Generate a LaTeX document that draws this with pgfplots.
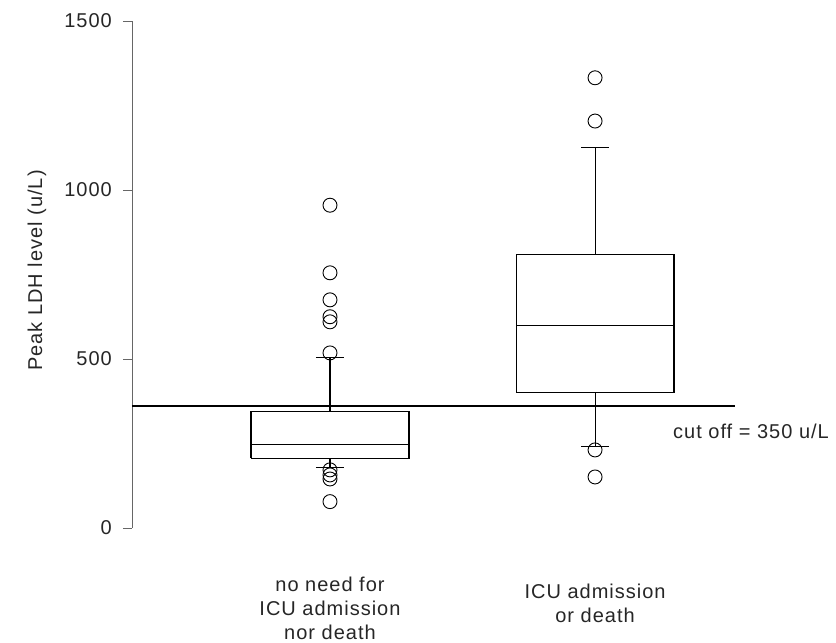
\documentclass[border=0pt]{standalone}
\usepackage{fontspec}
\setmainfont{Liberation Sans}[LetterSpace=5]
\usepackage{pgfplots}
\pgfplotsset{compat=1.18}
\begin{document}
\begin{tikzpicture}
\path[use as bounding box] (-132bp,-115bp) rectangle (704bp,528bp);
\begin{axis}[
  at={(0,0)}, anchor=south west,
  scale only axis, width=603bp, height=507bp,
  xmin=0.253, xmax=2.528, ymin=0, ymax=1500,
  clip=false,
  axis y line*=left, axis x line*=bottom,
  x axis line style={draw=none},
  y axis line style={black!60, line width=0.9bp},
  xtick={1,2},
  xticklabels={{no need for\\ICU admission\\nor death},{\rule{0pt}{21.5bp}ICU admission\\or death}},
  xtick style={draw=none},
  xticklabel style={align=center, anchor=north, inner sep=0pt, yshift=-40bp},
  ytick={0,500,1000,1500},
  ytick pos=left, tick align=outside,
  major tick length=9bp,
  ytick style={black!60, line width=0.9bp},
  yticklabel style={inner sep=0pt, xshift=-11bp},
  /pgf/number format/1000 sep={},
  /pgf/number format/assume math mode=true,
  tick label style={font=\fontsize{20bp}{24bp}\selectfont, text=black!85},
  ylabel={Peak LDH level (u/L)},
  ylabel style={at={(axis description cs:0,0.5)}, anchor=center, xshift=4bp, yshift=95bp, inner sep=0pt, font=\fontsize{20bp}{24bp}\selectfont, text=black!85},
  boxline/.style={black, line width=1.1bp, mark=none},
  outl/.style={only marks, mark=o, mark size=7bp, mark options={draw=black, line width=0.9bp}},
]
% cut-off line
\addplot[black, line width=1.3bp] coordinates {(0.253,361) (2.528,361)};
% group 1: median 248, Q1 206, Q3 344, whiskers 178 / 505
\addplot[boxline] coordinates {(0.702,206) (1.298,206) (1.298,344) (0.702,344) (0.702,206)};
\addplot[boxline] coordinates {(0.702,248) (1.298,248)};
\addplot[boxline] coordinates {(1,344) (1,505)};
\addplot[boxline] coordinates {(1,206) (1,178)};
\addplot[boxline] coordinates {(0.947,505) (1.053,505)};
\addplot[boxline] coordinates {(0.947,178) (1.053,178)};
\addplot[outl] coordinates {(1,955) (1,755) (1,675) (1,625) (1,610) (1,518) (1,172) (1,157) (1,145) (1,78)};
% group 2: median 598, Q1 402, Q3 808, whiskers 240 / 1126
\addplot[boxline] coordinates {(1.702,402) (2.298,402) (2.298,808) (1.702,808) (1.702,402)};
\addplot[boxline] coordinates {(1.702,598) (2.298,598)};
\addplot[boxline] coordinates {(2,808) (2,1126)};
\addplot[boxline] coordinates {(2,402) (2,240)};
\addplot[boxline] coordinates {(1.947,1126) (2.053,1126)};
\addplot[boxline] coordinates {(1.947,240) (2.053,240)};
\addplot[outl] coordinates {(2,1332) (2,1204) (2,231) (2,151)};
\node[anchor=base west, inner sep=0pt, font=\fontsize{20bp}{24bp}\selectfont, text=black!85] at (axis cs:2.294,266) {cut off = 350 u/L};
\end{axis}
\end{tikzpicture}
\end{document}
